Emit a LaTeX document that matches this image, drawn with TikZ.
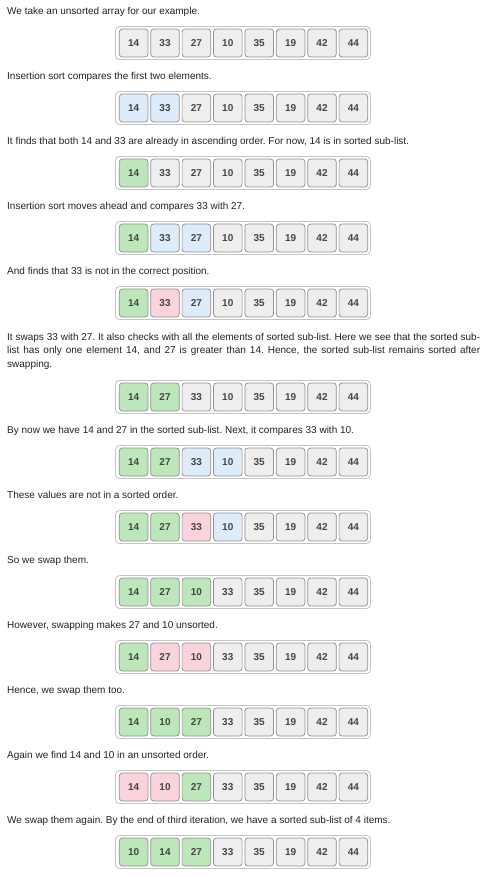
\documentclass[tikz,border=0pt]{standalone}
\usepackage{fontspec}
\setmainfont{Liberation Sans}
\frenchspacing
\definecolor{cg}{HTML}{EEEEEE}
\definecolor{cb}{HTML}{DDEBFB}
\definecolor{cn}{HTML}{BDE7BA}
\definecolor{cp}{HTML}{FBD3DD}
\definecolor{cellborder}{HTML}{8E8E8E}
\definecolor{frameborder}{HTML}{C4C4C4}
\definecolor{numtext}{HTML}{454545}
\definecolor{bodytext}{HTML}{222222}
\tikzset{
  frame/.style={draw=frameborder, fill=white, rounded corners=4pt, minimum width=255pt, minimum height=33pt, inner sep=0pt, line width=0.8pt},
  cell/.style={draw=cellborder, rounded corners=3pt, minimum width=28.6pt, minimum height=28pt, inner sep=0pt, line width=0.7pt, font=\fontsize{10}{12}\selectfont\bfseries, text=numtext},
  caption/.style={anchor=base west, inner sep=0pt, font=\fontsize{10}{12}\selectfont, text=bodytext}
}
\newcommand\cellrow[3]{%
  \node[frame] (f#1) at (243,#2) {};
  \foreach \v/\c [count=\i] in {#3} {
    \node[cell, fill=c\c] (r#1c\i) at ({133.6+31.4*(\i-1)},#2) {\v};
  }
}
\begin{document}
\begin{tikzpicture}[x=1pt,y=-1pt]
\useasboundingbox (0,0) rectangle (487,877);
\node[caption] (t1) at (7,14.5) {We take an unsorted array for our example.};
\cellrow{1}{43}{14/g,33/g,27/g,10/g,35/g,19/g,42/g,44/g}
\node[caption] (t2) at (7,79.5) {Insertion sort compares the first two elements.};
\cellrow{2}{108}{14/b,33/b,27/g,10/g,35/g,19/g,42/g,44/g}
\node[caption] (t3) at (7,144.5) {It finds that both 14 and 33 are already in ascending order. For now, 14 is in sorted sub-list.};
\cellrow{3}{173}{14/n,33/g,27/g,10/g,35/g,19/g,42/g,44/g}
\node[caption] (t4) at (7,209.5) {Insertion sort moves ahead and compares 33 with 27.};
\cellrow{4}{238}{14/n,33/b,27/b,10/g,35/g,19/g,42/g,44/g}
\node[caption] (t5) at (7,274.5) {And finds that 33 is not in the correct position.};
\cellrow{5}{303}{14/n,33/p,27/b,10/g,35/g,19/g,42/g,44/g}
\node[caption] (t6a) at (7,340) {\makebox[473pt][s]{It swaps 33 with 27. It also checks with all the elements of sorted sub-list. Here we see that the sorted sub-}};
\node[caption] (t6b) at (7,353.5) {\makebox[473pt][s]{list has only one element 14, and 27 is greater than 14. Hence, the sorted sub-list remains sorted after}};
\node[caption] (t6c) at (7,367) {swapping.};
\cellrow{6}{397}{14/n,27/n,33/g,10/g,35/g,19/g,42/g,44/g}
\node[caption] (t7) at (7,433.5) {By now we have 14 and 27 in the sorted sub-list. Next, it compares 33 with 10.};
\cellrow{7}{462}{14/n,27/n,33/b,10/b,35/g,19/g,42/g,44/g}
\node[caption] (t8) at (7,498.5) {These values are not in a sorted order.};
\cellrow{8}{527}{14/n,27/n,33/p,10/b,35/g,19/g,42/g,44/g}
\node[caption] (t9) at (7,563.5) {So we swap them.};
\cellrow{9}{592}{14/n,27/n,10/n,33/g,35/g,19/g,42/g,44/g}
\node[caption] (t10) at (7,628.5) {However, swapping makes 27 and 10 unsorted.};
\cellrow{10}{657}{14/n,27/p,10/p,33/g,35/g,19/g,42/g,44/g}
\node[caption] (t11) at (7,693.5) {Hence, we swap them too.};
\cellrow{11}{722}{14/n,10/n,27/n,33/g,35/g,19/g,42/g,44/g}
\node[caption] (t12) at (7,758.5) {Again we find 14 and 10 in an unsorted order.};
\cellrow{12}{787}{14/p,10/p,27/n,33/g,35/g,19/g,42/g,44/g}
\node[caption] (t13) at (7,823.5) {We swap them again. By the end of third iteration, we have a sorted sub-list of 4 items.};
\cellrow{13}{852}{10/n,14/n,27/n,33/g,35/g,19/g,42/g,44/g}
\end{tikzpicture}
\end{document}
